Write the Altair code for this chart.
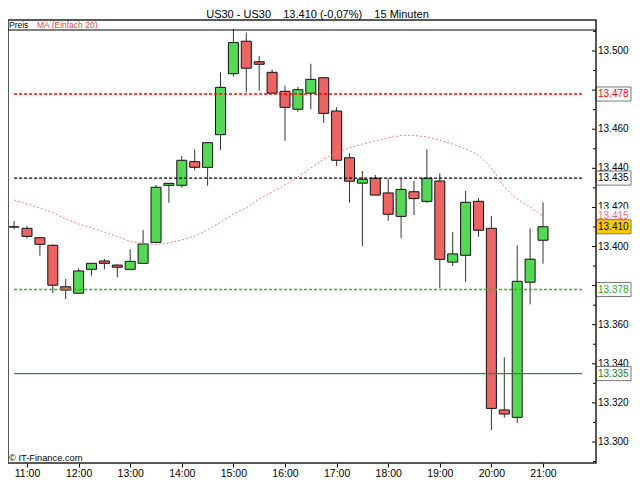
import altair as alt
import pandas as pd

# ---------------- data ----------------
times = ["10:45", "11:00", "11:15", "11:30", "11:45", "12:00", "12:15", "12:30", "12:45",
         "13:00", "13:15", "13:30", "13:45", "14:00", "14:15", "14:30", "14:45",
         "15:00", "15:15", "15:30", "15:45", "16:00", "16:15", "16:30", "16:45",
         "17:00", "17:15", "17:30", "17:45", "18:00", "18:15", "18:30", "18:45",
         "19:00", "19:15", "19:30", "19:45", "20:00", "20:15", "20:30", "20:45", "21:00"]

opens = [13.4100, 13.4093, 13.4045, 13.4006, 13.3794, 13.3761, 13.3883, 13.3926, 13.3905,
         13.3883, 13.3914, 13.4021, 13.4313, 13.4313, 13.4434, 13.4405, 13.4572,
         13.4884, 13.5050, 13.4945, 13.4891, 13.4794, 13.4702, 13.4784, 13.4863,
         13.4693, 13.4454, 13.4324, 13.4349, 13.4274, 13.4154, 13.4280, 13.4231,
         13.4335, 13.3920, 13.3955, 13.4231, 13.4093, 13.3164, 13.3126, 13.3817, 13.4032]
highs = [13.4130, 13.4105, 13.4048, 13.4011, 13.3834, 13.3888, 13.3914, 13.3936, 13.3909,
         13.3986, 13.4084, 13.4315, 13.4323, 13.4463, 13.4497, 13.4531, 13.4891,
         13.5113, 13.5094, 13.4974, 13.4906, 13.4823, 13.4817, 13.4935, 13.4866,
         13.4712, 13.4477, 13.4386, 13.4366, 13.4349, 13.4349, 13.4335, 13.4497,
         13.4374, 13.4074, 13.4284, 13.4247, 13.4156, 13.3433, 13.4006, 13.4093, 13.4226]
lows = [13.4090, 13.4042, 13.3953, 13.3761, 13.3731, 13.3761, 13.3851, 13.3883, 13.3842,
        13.3883, 13.3914, 13.4021, 13.4224, 13.4301, 13.4390, 13.4311, 13.4494,
        13.4869, 13.4789, 13.4797, 13.4784, 13.4541, 13.4690, 13.4702, 13.4633,
        13.4412, 13.4224, 13.4003, 13.4263, 13.4132, 13.4042, 13.4161, 13.4221,
        13.3789, 13.3900, 13.3820, 13.4050, 13.3061, 13.3124, 13.3096, 13.3704, 13.3912]
closes = [13.4100, 13.4052, 13.4011, 13.3802, 13.3777, 13.3875, 13.3914, 13.3914, 13.3894,
          13.3924, 13.4013, 13.4303, 13.4323, 13.4441, 13.4405, 13.4531, 13.4814,
          13.5043, 13.4912, 13.4932, 13.4784, 13.4712, 13.4802, 13.4855, 13.4681,
          13.4441, 13.4334, 13.4344, 13.4263, 13.4165, 13.4292, 13.4245, 13.4349,
          13.3934, 13.3962, 13.4226, 13.4083, 13.3172, 13.3143, 13.3822, 13.3935, 13.4101]
ma20 = [13.4238, 13.4217, 13.4197, 13.4174, 13.4141, 13.4115, 13.4095, 13.4074, 13.4051,
        13.4026, 13.4015, 13.4010, 13.4018, 13.4033, 13.4054, 13.4084, 13.4125,
        13.4166, 13.4197, 13.4243, 13.4279, 13.4315, 13.4356, 13.4402, 13.4448,
        13.4478, 13.4504, 13.4524, 13.4540, 13.4555, 13.4568, 13.4568, 13.4560,
        13.4545, 13.4524, 13.4499, 13.4468, 13.4402, 13.4304, 13.4243, 13.4202, 13.4155]

level_values = [13.478, 13.435, 13.378, 13.335]
level_names = ["rot", "schwarz", "grün", "dunkelgrün"]

x_tick_hours = [11, 12, 13, 14, 15, 16, 17, 18, 19, 20, 21]
y_major_ticks = [13.30, 13.32, 13.34, 13.36, 13.38, 13.40, 13.42, 13.44, 13.46, 13.48, 13.50]
y_minor_ticks = [13.29, 13.31, 13.33, 13.35, 13.37, 13.39, 13.41, 13.43, 13.45, 13.47, 13.49, 13.51]
# 13.480 and 13.380 are fully hidden behind the level boxes in the reference
y_labelled = [13.30, 13.32, 13.34, 13.36, 13.40, 13.42, 13.44, 13.46, 13.50]

title_text = "US30 - US30\u00a0\u00a0\u00a0 13.410 (-0,07%)\u00a0\u00a0\u00a0 15 Minuten"

# ---------------- layout / style ----------------
PLOT_W, PLOT_H = 588, 443
FONT = "Liberation Sans"
X_DOMAIN = [10.6318, 22.027]
Y_DOMAIN = [13.289259, 13.515857]
BOX_HALF = 0.0036          # half height of a price box, in price units (about 7 px)
GREEN, RED = "#55D855", "#EC6565"
level_style = {
    "rot": dict(color="#FF0000", strokeDash=[3, 2], strokeWidth=1.4),
    "schwarz": dict(color="#000000", strokeDash=[3, 2], strokeWidth=1.4),
    "grün": dict(color="#22BB22", strokeDash=[3, 2], strokeWidth=1.4),
    "dunkelgrün": dict(color="#2E8B2E", strokeWidth=1.3),
}
level_text_color = {"rot": "#FF0000", "schwarz": "#000000", "grün": "#22AA22", "dunkelgrün": "#1E7B1E"}

# ---------------- tables ----------------
hours = [int(t[:2]) + int(t[3:]) / 60 for t in times]
df = pd.DataFrame({"time": times, "hour": hours, "open": opens, "high": highs,
                   "low": lows, "close": closes, "ma": ma20})
df["dir"] = ["up" if c >= o else "down" for o, c in zip(opens, closes)]

x_axis = alt.Axis(values=x_tick_hours, labelExpr="datum.value + ':00'", title=None, grid=False,
                  domain=False, tickSize=4, tickWidth=1, tickColor="#000000", labelPadding=1,
                  labelFont=FONT, labelFontSize=10.5, labelColor="#000000", orient="bottom")
x_scale = alt.Scale(domain=X_DOMAIN, nice=False, zero=False, padding=0)
y_scale = alt.Scale(domain=Y_DOMAIN, nice=False, zero=False, padding=0)


def X(field):
    return alt.X(f"{field}:Q", scale=x_scale, axis=x_axis)


def Y(field):
    return alt.Y(f"{field}:Q", scale=y_scale, axis=None)


base = alt.Chart(df)

wicks = base.mark_rule(color="#333333", strokeWidth=1).encode(
    x=X("hour"), y=Y("low"), y2="high")

bodies = base.mark_bar(size=10, stroke="#111111", strokeWidth=1).encode(
    x=X("hour"), y=Y("open"), y2="close",
    color=alt.Color("dir:N", scale=alt.Scale(domain=["up", "down"], range=[GREEN, RED]), legend=None))

level_layers = []
for name, val in zip(level_names, level_values):
    ldf = pd.DataFrame({"hour": [hours[0]], "level": [val]})
    level_layers.append(
        alt.Chart(ldf).mark_rule(**level_style[name]).encode(
            x=X("hour"), x2=alt.value(PLOT_W - 14), y=Y("level")))

ma_line = base.mark_line(color="#F08080", strokeWidth=1, strokeDash=[2, 2]).encode(
    x=X("hour"), y=Y("ma"))

# frame of the plot (domain bounds)
frame_df = pd.DataFrame({"x0": [X_DOMAIN[0]], "x1": [X_DOMAIN[1]],
                         "y0": [Y_DOMAIN[0]], "y1": [Y_DOMAIN[1]]})
frame = alt.Chart(frame_df).mark_rect(fill="transparent", stroke="#222222", strokeWidth=1.5).encode(
    x=X("x0"), x2="x1", y=Y("y0"), y2="y1")
legend_rule = alt.Chart(frame_df).mark_rule(color="#000000", strokeWidth=1).encode(
    x=X("x0"), x2="x1", y=alt.value(10))

# price axis on the right: inward ticks and labels
tick_major_df = pd.DataFrame({"v": y_major_ticks, "xe": X_DOMAIN[1]})
tick_minor_df = pd.DataFrame({"v": y_minor_ticks, "xe": X_DOMAIN[1]})
major_ticks = alt.Chart(tick_major_df).mark_rule(color="#000000").encode(
    y=Y("v"), x=X("xe"), x2=alt.value(PLOT_W - 4))
minor_ticks = alt.Chart(tick_minor_df).mark_rule(color="#000000").encode(
    y=Y("v"), x=X("xe"), x2=alt.value(PLOT_W - 3))
axis_labels = alt.Chart(pd.DataFrame({"v": y_labelled,
                                      "t": [f"{v:.3f}" for v in y_labelled]})).mark_text(
    align="left", baseline="middle", font=FONT, fontSize=10, color="#000000"
).encode(y=Y("v"), x=alt.value(PLOT_W + 2), text="t:N")

# price labels with boxes
lab_vals = level_values + [ma20[-1], closes[-1]]
lab_text = [f"{v:.3f}" for v in level_values] + [f"{ma20[-1]:.3f}", f"{closes[-1]:.3f}"]
lab_color = [level_text_color[n] for n in level_names] + ["#F07070", "#000000"]
lab_fill = ["#FFFFFF"] * 4 + ["#FFFFFF", "#FFCC00"]
lab_border = ["#777777"] * 4 + ["#FFFFFF", "#777777"]
labdf = pd.DataFrame({"v": lab_vals, "t": lab_text, "c": lab_color, "f": lab_fill,
                      "b": lab_border, "xe": X_DOMAIN[1]})

label_boxes = alt.Chart(labdf).transform_calculate(
    lo=f"datum.v - {BOX_HALF}", hi=f"datum.v + {BOX_HALF}"
).mark_rect(strokeWidth=1).encode(
    y=Y("lo"), y2="hi", x=X("xe"), x2=alt.value(PLOT_W + 35),
    fill=alt.Fill("f:N", scale=None), stroke=alt.Stroke("b:N", scale=None))
label_text = alt.Chart(labdf).mark_text(
    align="left", baseline="middle", font=FONT, fontSize=10
).encode(y=Y("v"), x=alt.value(PLOT_W + 2), text="t:N", color=alt.Color("c:N", scale=None))

one = pd.DataFrame({"a": [0]})
preis = alt.Chart(one).mark_text(align="left", baseline="alphabetic", font=FONT, fontSize=8.5,
                                 color="#000000").encode(
    x=alt.value(1), y=alt.value(8), text=alt.value("Preis"))
ma_legend = alt.Chart(one).mark_text(align="left", baseline="alphabetic", font=FONT, fontSize=8.5,
                                     color="#EE4444").encode(
    x=alt.value(29), y=alt.value(8), text=alt.value("MA (Einfach 20)"))
copyright_txt = alt.Chart(one).mark_text(align="left", baseline="alphabetic", font=FONT,
                                         fontSize=9.3, color="#000000").encode(
    x=alt.value(1), y=alt.value(441), text=alt.value("© IT-Finance.com"))
title = alt.Chart(one).mark_text(align="center", baseline="alphabetic", font=FONT, fontSize=11,
                                 color="#000000").encode(
    x=alt.value(309.5), y=alt.value(-2.5), text=alt.value(title_text))

chart = alt.layer(
    wicks, bodies, *level_layers, ma_line, major_ticks, minor_ticks, axis_labels,
    label_boxes, label_text, frame, legend_rule, preis, ma_legend, copyright_txt, title
).properties(
    width=PLOT_W, height=PLOT_H,
    autosize=alt.AutoSizeParams(type="none"),
    padding={"left": 0, "top": 12, "right": 36, "bottom": 17},
    background="#FFFFFF",
).configure_view(stroke=None)

chart.save("out.html", embed_options={"renderer": "svg", "actions": False})
